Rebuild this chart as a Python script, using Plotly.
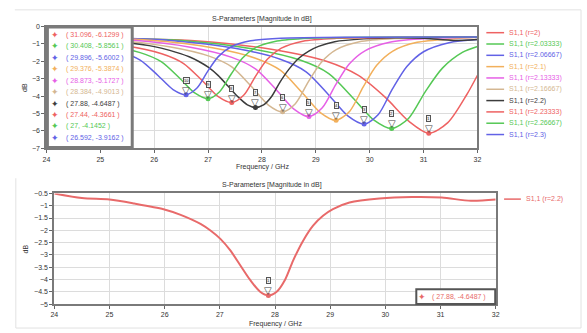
import plotly.graph_objects as go

W, H = 587, 333

# ---------------- data ----------------
radius_labels = ["2", "2.03333", "2.06667", "2.1", "2.13333", "2.16667",
                 "2.2", "2.23333", "2.26667", "2.3"]
line_colors = ["#ee6262", "#55c855", "#6262e6", "#f2b05c", "#e660e6", "#d4b792",
               "#3c3c3c", "#ee6262", "#55c855", "#6262e6"]

freq_r2000 = [24, 25.5, 26.75, 28.2, 29.21, 29.79, 30.3, 30.73, 31.096, 31.45, 31.8, 32]
s11_r2000 = [-0.6, -0.7, -0.82, -1.32, -2.01, -2.81, -4.1, -5.45, -6.1299, -5.52, -3.92, -2.8]

freq_r2033 = [24, 25.3, 26.51, 27.81, 28.72, 29.24, 29.69, 30.08, 30.408, 30.72, 31.03, 31.35, 31.72, 32]
s11_r2033 = [-0.58, -0.68, -0.8, -1.28, -1.94, -2.7, -4.1, -5.38, -5.8561, -5.28, -3.75, -2.39, -1.49, -1.15]

freq_r2067 = [24, 25.2, 26.3, 27.5, 28.34, 28.82, 29.24, 29.6, 29.896, 30.16, 30.42, 30.69, 31.0, 31.47, 32]
s11_r2067 = [-0.57, -0.66, -0.8, -1.25, -1.88, -2.6, -3.93, -5.15, -5.6002, -5.05, -3.6, -2.3, -1.45, -0.93, -0.75]

freq_r2100 = [24, 25.93, 27.08, 27.88, 28.34, 28.74, 29.09, 29.376, 29.63, 29.88, 30.13, 30.43, 30.88, 31.58, 32]
s11_r2100 = [-0.56, -0.79, -1.22, -1.82, -2.51, -3.78, -4.96, -5.3874, -4.86, -3.47, -2.23, -1.41, -0.91, -0.7, -0.62]

freq_r2133 = [24, 25.57, 26.67, 27.44, 27.88, 28.27, 28.6, 28.873, 29.12, 29.37, 29.62, 29.92, 30.37, 31.07, 32]
s11_r2133 = [-0.57, -0.78, -1.19, -1.77, -2.43, -3.64, -4.76, -5.1727, -4.67, -3.34, -2.15, -1.38, -0.9, -0.69, -0.62]

freq_r2167 = [24, 25.23, 26.28, 27.02, 27.44, 27.81, 28.12, 28.384, 28.62, 28.86, 29.10, 29.38, 29.81, 30.47, 31.3, 32]
s11_r2167 = [-0.6, -0.77, -1.16, -1.70, -2.32, -3.46, -4.51, -4.9013, -4.43, -3.18, -2.06, -1.33, -0.88, -0.69, -0.63, -0.6]

freq_r2200 = [24, 24.5, 25.0, 25.45, 25.98, 26.29, 26.65, 26.83, 27.01, 27.19, 27.37, 27.55, 27.73,
              27.88, 28.03, 28.18, 28.33, 28.51, 28.69, 28.87, 29.05, 29.35, 29.89, 30.48, 31.02, 31.55, 32]
s11_r2200 = [-0.5, -0.69, -0.75, -0.91, -1.14, -1.37, -1.74, -2.01, -2.35, -2.82, -3.42, -4.02, -4.5,
             -4.6487, -4.5, -4.02, -3.22, -2.42, -1.81, -1.41, -1.14, -0.87, -0.71, -0.65, -0.67, -0.8, -0.75]

freq_r2233 = [24, 24.44, 25.44, 26.14, 26.54, 26.89, 27.19, 27.44, 27.66, 27.88, 28.10, 28.36, 28.76, 29.38, 30.5, 32]
s11_r2233 = [-0.65, -0.75, -1.09, -1.56, -2.11, -3.10, -4.03, -4.3661, -3.95, -2.86, -1.88, -1.24, -0.84, -0.68, -0.62, -0.6]

freq_r2267 = [24, 25.06, 25.74, 26.13, 26.47, 26.76, 27.0, 27.21, 27.43, 27.64, 27.89, 28.28, 28.87, 30.2, 32]
s11_r2267 = [-0.72, -1.06, -1.50, -2.02, -2.96, -3.83, -4.1452, -3.76, -2.73, -1.81, -1.2, -0.83, -0.67, -0.61, -0.6]

freq_r2300 = [24, 24.69, 25.36, 25.74, 26.07, 26.35, 26.592, 26.79, 26.99, 27.19, 27.43, 27.79, 28.35, 29.8, 32]
s11_r2300 = [-0.75, -1.03, -1.45, -1.93, -2.81, -3.62, -3.9162, -3.55, -2.59, -1.73, -1.16, -0.82, -0.67, -0.61, -0.6]

curve_freqs = [freq_r2000, freq_r2033, freq_r2067, freq_r2100, freq_r2133,
               freq_r2167, freq_r2200, freq_r2233, freq_r2267, freq_r2300]
curve_s11 = [s11_r2000, s11_r2033, s11_r2067, s11_r2100, s11_r2133,
             s11_r2167, s11_r2200, s11_r2233, s11_r2267, s11_r2300]

marker_freq = [31.096, 30.408, 29.896, 29.376, 28.873, 28.384, 27.88, 27.44, 27, 26.592]
marker_db = [-6.1299, -5.8561, -5.6002, -5.3874, -5.1727, -4.9013, -4.6487, -4.3661, -4.1452, -3.9162]

bottom_index = 6          # r = 2.2 shown alone in the lower chart
bottom_color = "#e86a6a"

# ---------------- helpers ----------------
def px(x):
    return x / W

def py(y):
    return 1 - y / H

FONT = "Liberation Sans, Arial, sans-serif"

fig = go.Figure()

for i in range(len(radius_labels)):
    fig.add_trace(go.Scatter(
        x=curve_freqs[i], y=curve_s11[i], mode="lines",
        line=dict(color=line_colors[i], width=1.5, shape="spline", smoothing=0.8),
        name=f"S1,1 (r={radius_labels[i]})", xaxis="x", yaxis="y", showlegend=False,
        hoverinfo="skip"))

fig.add_trace(go.Scatter(
    x=marker_freq, y=marker_db, mode="markers",
    marker=dict(color=line_colors, size=5), xaxis="x", yaxis="y",
    showlegend=False, hoverinfo="skip"))

fig.add_trace(go.Scatter(
    x=curve_freqs[bottom_index], y=curve_s11[bottom_index], mode="lines",
    line=dict(color=bottom_color, width=2, shape="spline", smoothing=0.8),
    name=f"S1,1 (r={radius_labels[bottom_index]})", xaxis="x2", yaxis="y2",
    showlegend=False, hoverinfo="skip"))
fig.add_trace(go.Scatter(
    x=[marker_freq[bottom_index]], y=[marker_db[bottom_index]], mode="markers",
    marker=dict(color=bottom_color, size=5), xaxis="x2", yaxis="y2",
    showlegend=False, hoverinfo="skip"))

axis_common = dict(
    showgrid=True, gridcolor="#dcdcdc", gridwidth=1,
    showline=True, mirror=True, linecolor="#7a7a7a", linewidth=2,
    ticks="outside", ticklen=3, tickcolor="#666",
    tickfont=dict(size=7, color="#333", family=FONT), zeroline=False,
)

fig.update_layout(
    width=W, height=H, margin=dict(l=0, r=0, t=0, b=0),
    paper_bgcolor="white", plot_bgcolor="white",
    xaxis=dict(domain=[px(43), px(480)], anchor="y", range=[24, 32], dtick=1, **axis_common),
    yaxis=dict(domain=[py(147.5), py(23)], anchor="x", range=[-7, 0], dtick=1, **axis_common),
    xaxis2=dict(domain=[px(51), px(498.5)], anchor="y2", range=[24, 32], dtick=1, **axis_common),
    yaxis2=dict(domain=[py(306.5), py(193.5)], anchor="x2", range=[-5, -0.5], dtick=0.5,
                tick0=-5, **axis_common),
)

ann = []
shapes = []

def text_ann(text, x, y, size=7, color="#333", xanchor="center", angle=0, family=FONT):
    ann.append(dict(text=text, x=x, y=y, xref="paper", yref="paper", showarrow=False,
                    xanchor=xanchor, yanchor="middle", textangle=angle,
                    font=dict(size=size, color=color, family=family)))

# titles and axis labels
title_text = "S-Parameters [Magnitude in dB]"
text_ann(title_text, px(262), py(15))
text_ann(title_text, px(272), py(185))
text_ann("Frequency / GHz", px(262), py(167))
text_ann("Frequency / GHz", px(275), py(327))
text_ann("dB", px(20), py(85), angle=-90)
text_ann("dB", px(22), py(250), angle=-90)

# curve markers (triangles with numbers on top)
def add_marker(xv, yv, num, xr, yr):
    ann.append(dict(text="▽", x=xv, y=yv, xref=xr, yref=yr, showarrow=False,
                    xanchor="center", yanchor="bottom", yshift=-3,
                    font=dict(size=10, color="#444", family="DejaVu Sans")))
    ann.append(dict(text=str(num), x=xv, y=yv, xref=xr, yref=yr, showarrow=False,
                    xanchor="center", yanchor="bottom", yshift=11, bgcolor="#eeeeee",
                    bordercolor="#555", borderwidth=1, borderpad=0,
                    font=dict(size=4, color="#222", family=FONT)))

for i in range(len(marker_freq)):
    add_marker(marker_freq[i], marker_db[i], i + 1, "x", "y")
add_marker(marker_freq[bottom_index], marker_db[bottom_index], 1, "x2", "y2")

# marker list box (top chart)
shapes.append(dict(type="rect", xref="paper", yref="paper", x0=px(44), x1=px(130),
                   y0=py(146.5), y1=py(23.5), fillcolor="white",
                   line=dict(color="#7a7a7a", width=3), layer="above"))
row_y0, row_dy = 31.7, 11.67
for i in range(len(marker_freq)):
    yy = py(row_y0 + i * row_dy)
    text_ann("✦", px(52), yy, size=9, color=line_colors[i], family="DejaVu Sans")
    text_ann(f"( {marker_freq[i]:g}, {marker_db[i]:g} )", px(61), yy,
             color=line_colors[i], xanchor="left")

# marker box (bottom chart)
shapes.append(dict(type="rect", xref="paper", yref="paper", x0=px(418), x1=px(498),
                   y0=py(306.5), y1=py(291.5), fillcolor="white",
                   line=dict(color="#555", width=2), layer="above"))
text_ann("✦", px(424), py(299), size=9, color=bottom_color, family="DejaVu Sans")
text_ann(f"( {marker_freq[bottom_index]:g}, {marker_db[bottom_index]:g} )",
         px(432), py(299), color=bottom_color, xanchor="left")

# manual legends
leg_y0, leg_dy = 29.3, 11.56
for i in range(len(radius_labels)):
    yy = py(leg_y0 + i * leg_dy)
    shapes.append(dict(type="line", xref="paper", yref="paper", x0=px(489), x1=px(507),
                       y0=yy, y1=yy, line=dict(color=line_colors[i], width=1.5)))
    text_ann(f"S1,1 (r={radius_labels[i]})", px(510), yy, color=line_colors[i], xanchor="left")
yy = py(199.3)
shapes.append(dict(type="line", xref="paper", yref="paper", x0=px(507), x1=px(524),
                   y0=yy, y1=yy, line=dict(color=bottom_color, width=1.5)))
text_ann(f"S1,1 (r={radius_labels[bottom_index]})", px(527), yy, color=bottom_color,
         xanchor="left")

# faint screenshot frame lines
frame = dict(color="#e2e2e2", width=1)
shapes.append(dict(type="line", xref="paper", yref="paper", x0=px(11), x1=px(585),
                   y0=py(6), y1=py(6), line=frame))
shapes.append(dict(type="line", xref="paper", yref="paper", x0=px(585), x1=px(585),
                   y0=py(6), y1=py(331), line=frame))
shapes.append(dict(type="line", xref="paper", yref="paper", x0=px(12), x1=px(12),
                   y0=py(178), y1=py(331), line=frame))
shapes.append(dict(type="line", xref="paper", yref="paper", x0=px(12), x1=px(585),
                   y0=py(331), y1=py(331), line=frame))

fig.update_layout(annotations=ann, shapes=shapes)
fig.write_html("out.html")
